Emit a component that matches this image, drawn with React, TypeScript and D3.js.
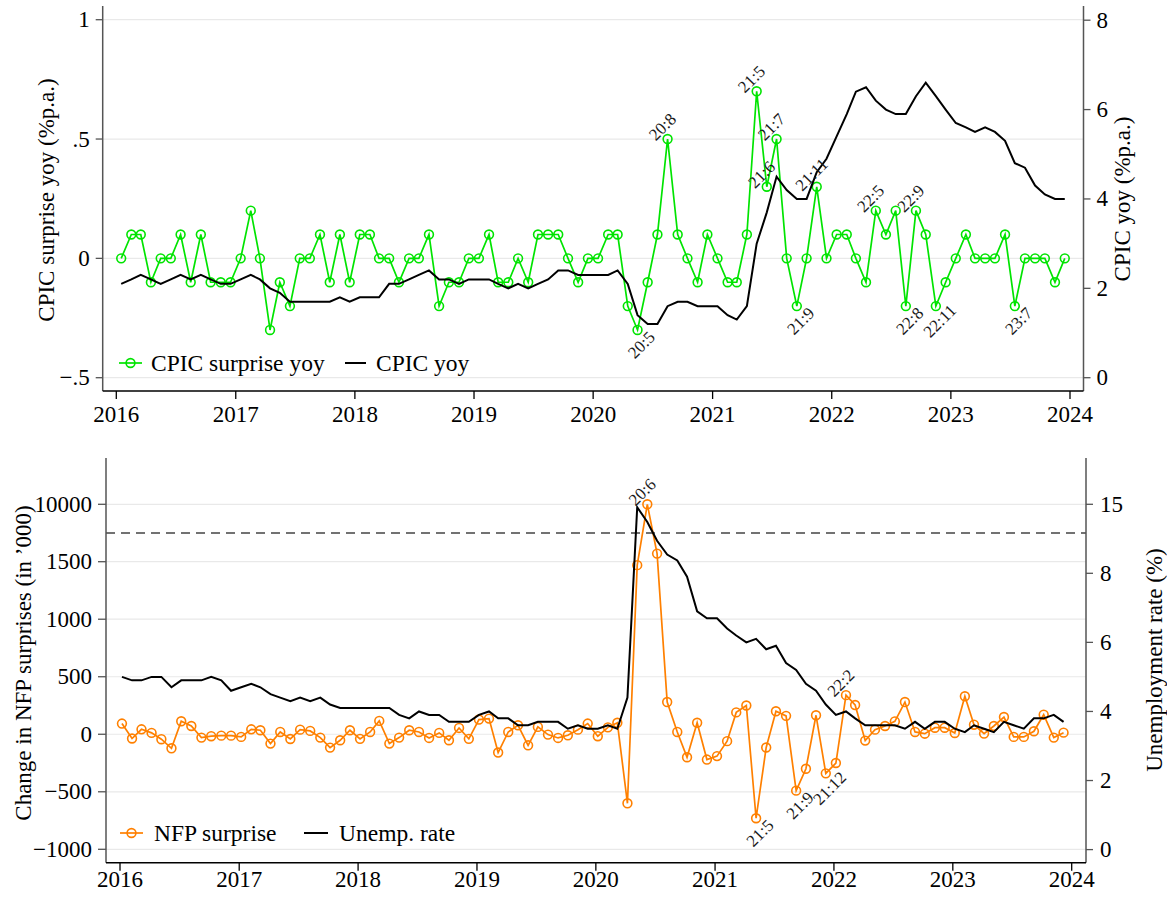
import React from "react";
import * as d3 from "d3";

// ---------- DATA ----------
const START_YEAR = 2016;

// CPI core surprise (yoy, % p.a.), monthly 2016m1..2023m12
const cpicSurprise = [
  0, 0.1, 0.1, -0.1, 0, 0, 0.1, -0.1, 0.1, -0.1, -0.1, -0.1,
  0, 0.2, 0, -0.3, -0.1, -0.2, 0, 0, 0.1, -0.1, 0.1, -0.1,
  0.1, 0.1, 0, 0, -0.1, 0, 0, 0.1, -0.2, -0.1, -0.1, 0,
  0, 0.1, -0.1, -0.1, 0, -0.1, 0.1, 0.1, 0.1, 0, -0.1, 0,
  0, 0.1, 0.1, -0.2, -0.3, -0.1, 0.1, 0.5, 0.1, 0, -0.1, 0.1,
  0, -0.1, -0.1, 0.1, 0.7, 0.3, 0.5, 0, -0.2, 0, 0.3, 0,
  0.1, 0.1, 0, -0.1, 0.2, 0.1, 0.2, -0.2, 0.2, 0.1, -0.2, -0.1,
  0, 0.1, 0, 0, 0, 0.1, -0.2, 0, 0, 0, -0.1, 0,
];

// CPI core yoy (% p.a.)
const cpicYoy = [
  2.1, 2.2, 2.3, 2.2, 2.1, 2.2, 2.3, 2.2, 2.3, 2.2, 2.1, 2.1,
  2.2, 2.3, 2.2, 2.0, 1.9, 1.7, 1.7, 1.7, 1.7, 1.7, 1.8, 1.7,
  1.8, 1.8, 1.8, 2.1, 2.1, 2.2, 2.3, 2.4, 2.2, 2.2, 2.1, 2.2,
  2.2, 2.2, 2.1, 2.0, 2.1, 2.0, 2.1, 2.2, 2.4, 2.4, 2.3, 2.3,
  2.3, 2.3, 2.4, 2.1, 1.4, 1.2, 1.2, 1.6, 1.7, 1.7, 1.6, 1.6,
  1.6, 1.4, 1.3, 1.6, 3.0, 3.7, 4.5, 4.2, 4.0, 4.0, 4.6, 4.9,
  5.4, 5.9, 6.4, 6.5, 6.2, 6.0, 5.9, 5.9, 6.3, 6.6, 6.3, 6.0,
  5.7, 5.6, 5.5, 5.6, 5.5, 5.3, 4.8, 4.7, 4.3, 4.1, 4.0, 4.0,
];

// NFP surprise (thousands)
const nfpSurprise = [
  93, -37, 43, 12, -43, -122, 113, 72, -29, -17, -12, -12,
  -23, 43, 35, -81, 20, -41, 40, 29, -29, -116, -52, 35,
  -40, 20, 116, -81, -29, 35, 20, -32, 12, -52, 55, -40,
  128, 136, -159, 20, 78, -96, 64, -3, -32, -9, 40, 93,
  -17, 60, 100, -600, 1470, 10000, 2700, 280, 20, -200, 100, -220,
  -190, -60, 190, 250, -730, -115, 200, 160, -490, -300, 165, -340,
  -250, 340, 254, -55, 40, 72, 112, 280, 20, 5, 57, 57,
  11, 330, 83, 6, 72, 150, -23, -23, 26, 170, -29, 14,
];

// Unemployment rate (%)
const unempRate = [
  5.0, 4.9, 4.9, 5.0, 5.0, 4.7, 4.9, 4.9, 4.9, 5.0, 4.9, 4.6,
  4.7, 4.8, 4.7, 4.5, 4.4, 4.3, 4.4, 4.3, 4.4, 4.2, 4.1, 4.1,
  4.1, 4.1, 4.1, 4.1, 3.9, 3.8, 4.0, 3.9, 3.9, 3.7, 3.7, 3.7,
  3.9, 4.0, 3.8, 3.8, 3.6, 3.6, 3.7, 3.7, 3.7, 3.5, 3.6, 3.5,
  3.5, 3.6, 3.5, 4.4, 14.7, 13.2, 11.3, 9.9, 9.3, 7.9, 6.9, 6.7,
  6.7, 6.4, 6.2, 6.0, 6.1, 5.8, 5.9, 5.4, 5.2, 4.8, 4.6, 4.2,
  3.9, 4.0, 3.8, 3.6, 3.6, 3.6, 3.6, 3.5, 3.7, 3.5, 3.7, 3.7,
  3.5, 3.4, 3.6, 3.5, 3.4, 3.7, 3.6, 3.5, 3.8, 3.8, 3.9, 3.7,
];

const yearTicks = [2016, 2017, 2018, 2019, 2020, 2021, 2022, 2023, 2024];
const topLeftTicks = [-0.5, 0, 0.5, 1];
const topLeftTickLabels = ["\u2212.5", "0", ".5", "1"];
const topRightTicks = [0, 2, 4, 6, 8];
const bottomLeftTicks = [-1000, -500, 0, 500, 1000, 1500, 10000];
const bottomLeftTickLabels = ["\u22121000", "\u2212500", "0", "500", "1000", "1500", "10000"];
const bottomRightTicks = [0, 2, 4, 6, 8, 15];
const bottomBreakValue = 5750;

// annotated months (index into the series), label side
const topAnnotIdx = [52, 55, 64, 65, 66, 68, 70, 76, 79, 80, 82, 90];
const topAnnotSide = ["below", "above", "above", "above", "above", "below", "above", "above", "below", "above", "below", "below"];
const bottomAnnotIdx = [53, 64, 68, 71, 73];
const bottomAnnotSide = ["above", "below", "below", "below", "above"];

// ---------- HELPERS ----------
const FONT = "'Liberation Serif', 'Times New Roman', Times, serif";
const GREEN = "#00e400";
const ORANGE = "#ff8000";
const GRID = "#e9e9e9";
const AXIS = "#555";

const topDates = cpicSurprise.map((_, i) => new Date(START_YEAR, i, 16));
const botDates = nfpSurprise.map((_, i) => new Date(START_YEAR, i, 7));
const monthLabel = (i: number) => {
  const y = (START_YEAR + Math.floor(i / 12)) % 100;
  const m = (i % 12) + 1;
  return `${y}:${m}`;
};

function Circles({ xs, ys, color }: { xs: number[]; ys: number[]; color: string }) {
  return (
    <g>
      {xs.map((x, i) => (
        <circle key={i} cx={x} cy={ys[i]} r={4.4} fill="none" stroke={color} strokeWidth={1.6} />
      ))}
    </g>
  );
}

function Annots({ xs, ys, idx, side }: { xs: number[]; ys: number[]; idx: number[]; side: string[] }) {
  return (
    <g>
      {idx.map((i, k) => {
        const above = side[k] === "above";
        const cx = xs[i] + (above ? -5 : 4);
        const cy = ys[i] + (above ? -12 : 15);
        return (
          <text
            key={k}
            transform={`translate(${cx},${cy}) rotate(-45)`}
            textAnchor="middle"
            dominantBaseline="central"
            fontSize={17}
            fill="#1a1a1a"
          >
            {monthLabel(i)}
          </text>
        );
      })}
    </g>
  );
}

export default function App() {
  // ----- TOP PANEL -----
  const tL = 102.7, tR = 1083.5, tT = 6, tB = 391;
  const topX = d3.scaleTime().domain([new Date(2016, 0, 1), new Date(2024, 0, 1)]).range([116.3, 1070]);
  const topYL = d3.scaleLinear().domain([-0.5, 1]).range([377.7, 19.7]);
  const topYR = d3.scaleLinear().domain([0, 8]).range([377.7, 20.2]);

  const tx = topDates.map((d) => topX(d));
  const tyS = cpicSurprise.map((v) => topYL(v));
  const tyY = cpicYoy.map((v) => topYR(v));
  const lineGen = d3.line<[number, number]>().x((d) => d[0]).y((d) => d[1]);
  const topSurprisePath = lineGen(tx.map((x, i) => [x, tyS[i]]) as [number, number][]) || "";
  const topYoyPath = lineGen(tx.map((x, i) => [x, tyY[i]]) as [number, number][]) || "";

  // ----- BOTTOM PANEL -----
  const bL = 106, bR = 1086, bT = 458, bB = 862.7;
  const botX = d3.scaleTime().domain([new Date(2016, 0, 1), new Date(2024, 0, 1)]).range([120, 1071.7]);
  const botYL = d3.scaleLinear().domain([-1000, 1500, 10000]).range([849.3, 561.7, 504.3]);
  const botYR = d3.scaleLinear().domain([0, 8, 15]).range([849.6, 573.3, 504.3]);

  const bx = botDates.map((d) => botX(d));
  const byN = nfpSurprise.map((v) => botYL(v));
  const byU = unempRate.map((v) => botYR(v));
  const botNfpPath = lineGen(bx.map((x, i) => [x, byN[i]]) as [number, number][]) || "";
  const botUPath = lineGen(bx.map((x, i) => [x, byU[i]]) as [number, number][]) || "";

  return (
    <svg
      width={1167}
      height={901}
      style={{ position: "absolute", left: 0, top: 0, background: "#fff" }}
      fontFamily={FONT}
    >
      <rect x={0} y={0} width={1167} height={901} fill="#fff" />

      {/* ===== TOP PANEL ===== */}
      <g>
        {topLeftTicks.map((t, i) => (
          <line key={i} x1={tL} x2={tR} y1={topYL(t)} y2={topYL(t)} stroke={GRID} strokeWidth={1.2} />
        ))}
        <path d={topSurprisePath} fill="none" stroke={GREEN} strokeWidth={1.7} />
        <Circles xs={tx} ys={tyS} color={GREEN} />
        <path d={topYoyPath} fill="none" stroke="#000" strokeWidth={2} />
        <Annots xs={tx} ys={tyS} idx={topAnnotIdx} side={topAnnotSide} />

        {/* axes */}
        <line x1={tL} x2={tL} y1={tT} y2={tB} stroke={AXIS} strokeWidth={1.5} />
        <line x1={tR} x2={tR} y1={tT} y2={tB} stroke={AXIS} strokeWidth={1.5} />
        <line x1={tL} x2={tR} y1={tB} y2={tB} stroke="#000" strokeWidth={1.5} />
        {topLeftTicks.map((t, i) => (
          <g key={i}>
            <line x1={tL - 7} x2={tL} y1={topYL(t)} y2={topYL(t)} stroke={AXIS} strokeWidth={1.3} />
            <text x={tL - 13} y={topYL(t)} textAnchor="end" dominantBaseline="central" fontSize={23}>
              {topLeftTickLabels[i]}
            </text>
          </g>
        ))}
        {topRightTicks.map((t, i) => (
          <g key={i}>
            <line x1={tR} x2={tR + 7} y1={topYR(t)} y2={topYR(t)} stroke={AXIS} strokeWidth={1.3} />
            <text x={tR + 13} y={topYR(t)} textAnchor="start" dominantBaseline="central" fontSize={23}>
              {t}
            </text>
          </g>
        ))}
        {yearTicks.map((yr, i) => {
          const x = topX(new Date(yr, 0, 1));
          return (
            <g key={i}>
              <line x1={x} x2={x} y1={tB} y2={tB + 8} stroke="#000" strokeWidth={1.3} />
              <text x={x} y={421.5} textAnchor="middle" fontSize={23}>
                {yr}
              </text>
            </g>
          );
        })}
        <text transform="translate(46,200) rotate(-90)" textAnchor="middle" dominantBaseline="central" fontSize={23}>
          CPIC surprise yoy (%p.a.)
        </text>
        <text transform="translate(1122,199) rotate(-90)" textAnchor="middle" dominantBaseline="central" fontSize={23}>
          CPIC yoy (%p.a.)
        </text>

        {/* legend */}
        <line x1={119} x2={142} y1={363} y2={363} stroke={GREEN} strokeWidth={1.7} />
        <circle cx={130.5} cy={363} r={4.4} fill="none" stroke={GREEN} strokeWidth={1.6} />
        <text x={151} y={363} dominantBaseline="central" fontSize={23.5}>CPIC surprise yoy</text>
        <line x1={345} x2={366} y1={363} y2={363} stroke="#000" strokeWidth={2} />
        <text x={376} y={363} dominantBaseline="central" fontSize={23.5}>CPIC yoy</text>
      </g>

      {/* ===== BOTTOM PANEL ===== */}
      <g>
        {bottomLeftTicks.map((t, i) => (
          <line key={i} x1={bL} x2={bR} y1={botYL(t)} y2={botYL(t)} stroke={GRID} strokeWidth={1.2} />
        ))}
        <line
          x1={bL}
          x2={bR}
          y1={botYL(bottomBreakValue)}
          y2={botYL(bottomBreakValue)}
          stroke="#444"
          strokeWidth={1.3}
          strokeDasharray="9,6"
        />
        <path d={botNfpPath} fill="none" stroke={ORANGE} strokeWidth={1.7} />
        <Circles xs={bx} ys={byN} color={ORANGE} />
        <path d={botUPath} fill="none" stroke="#000" strokeWidth={2} />
        <Annots xs={bx} ys={byN} idx={bottomAnnotIdx} side={bottomAnnotSide} />

        <line x1={bL} x2={bL} y1={bT} y2={bB} stroke={AXIS} strokeWidth={1.5} />
        <line x1={bR} x2={bR} y1={bT} y2={bB} stroke={AXIS} strokeWidth={1.5} />
        <line x1={bL} x2={bR} y1={bB} y2={bB} stroke="#000" strokeWidth={1.5} />
        {bottomLeftTicks.map((t, i) => (
          <g key={i}>
            <line x1={bL - 8} x2={bL} y1={botYL(t)} y2={botYL(t)} stroke={AXIS} strokeWidth={1.3} />
            <text x={bL - 14} y={botYL(t)} textAnchor="end" dominantBaseline="central" fontSize={23}>
              {bottomLeftTickLabels[i]}
            </text>
          </g>
        ))}
        {bottomRightTicks.map((t, i) => (
          <g key={i}>
            <line x1={bR} x2={bR + 7} y1={botYR(t)} y2={botYR(t)} stroke={AXIS} strokeWidth={1.3} />
            <text x={bR + 14} y={botYR(t)} textAnchor="start" dominantBaseline="central" fontSize={23}>
              {t}
            </text>
          </g>
        ))}
        {yearTicks.map((yr, i) => {
          const x = botX(new Date(yr, 0, 1));
          return (
            <g key={i}>
              <line x1={x} x2={x} y1={bB} y2={bB + 8} stroke="#000" strokeWidth={1.3} />
              <text x={x} y={887} textAnchor="middle" fontSize={23}>
                {yr}
              </text>
            </g>
          );
        })}
        <text transform="translate(23,663) rotate(-90)" textAnchor="middle" dominantBaseline="central" fontSize={23}>
          Change in NFP surprises (in ’000)
        </text>
        <text transform="translate(1154,660) rotate(-90)" textAnchor="middle" dominantBaseline="central" fontSize={23}>
          Unemployment rate (%)
        </text>

        {/* legend */}
        <line x1={120} x2={143} y1={833} y2={833} stroke={ORANGE} strokeWidth={1.7} />
        <circle cx={131.5} cy={833} r={4.4} fill="none" stroke={ORANGE} strokeWidth={1.6} />
        <text x={154} y={833} dominantBaseline="central" fontSize={23.5}>NFP surprise</text>
        <line x1={304} x2={328} y1={833} y2={833} stroke="#000" strokeWidth={2} />
        <text x={339} y={833} dominantBaseline="central" fontSize={23.5}>Unemp. rate</text>
      </g>
    </svg>
  );
}
